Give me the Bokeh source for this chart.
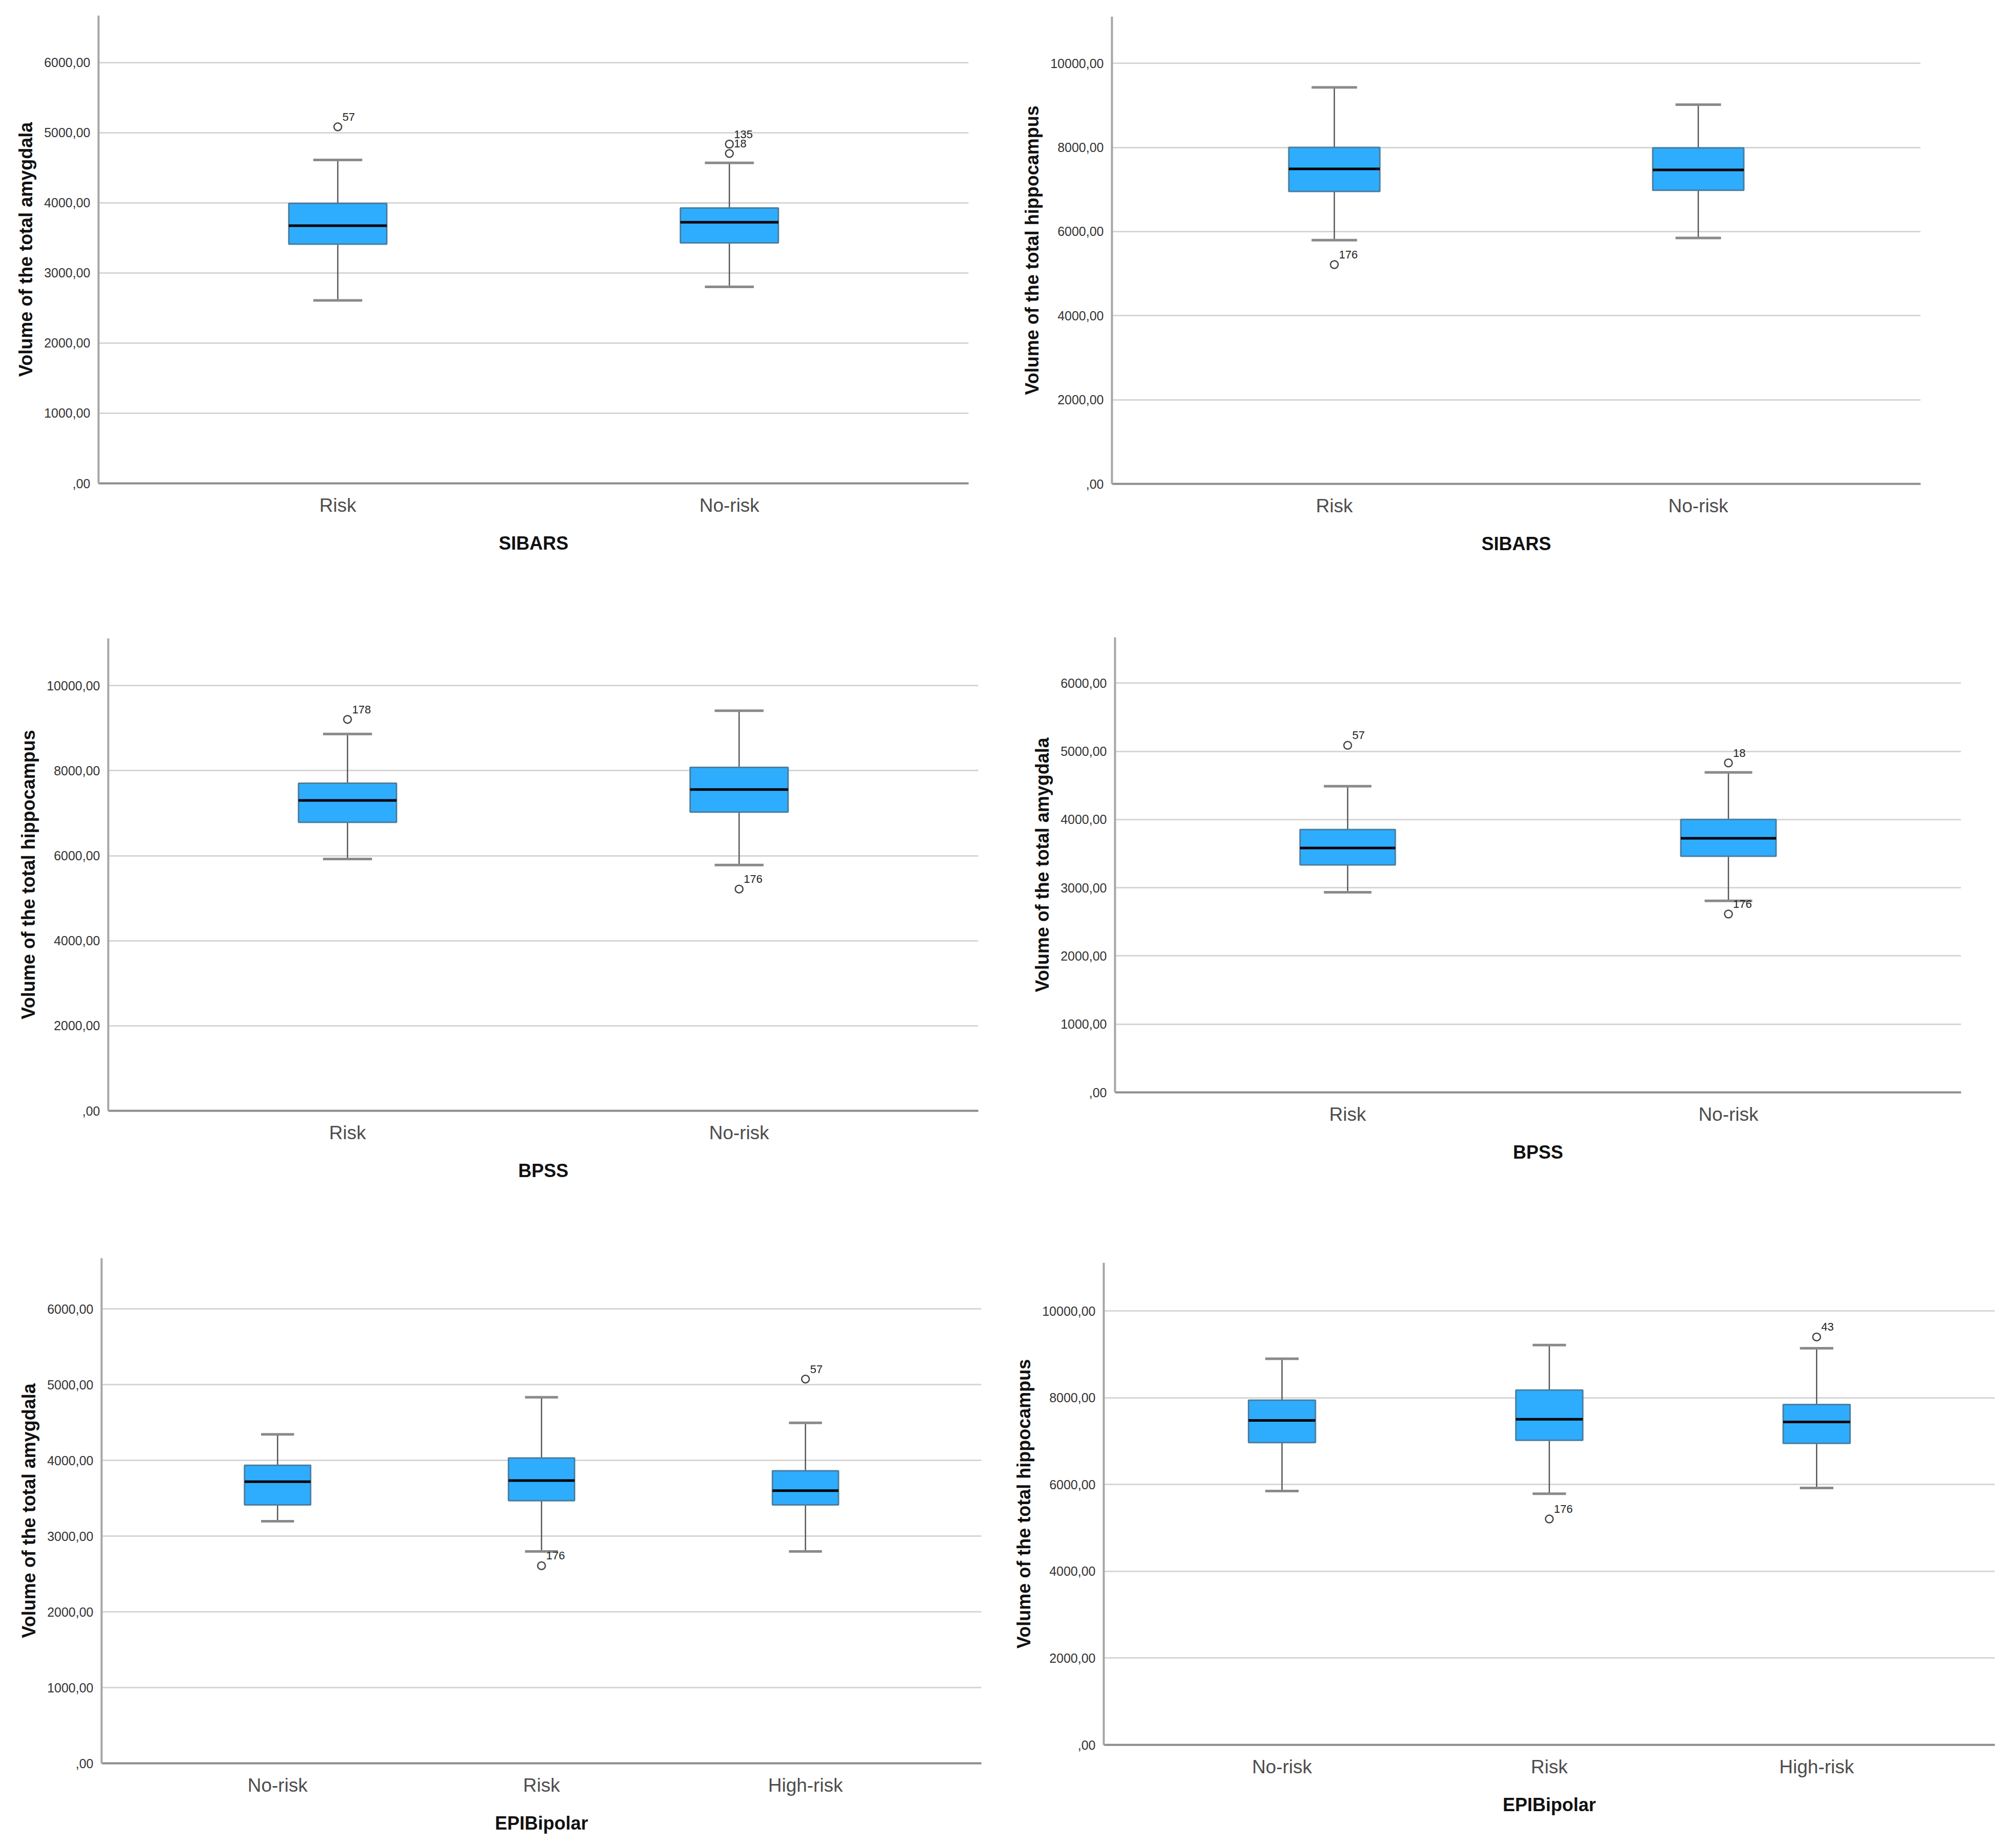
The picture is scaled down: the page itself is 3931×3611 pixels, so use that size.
from bokeh.plotting import figure
from bokeh.models import FactorRange, Range1d, FixedTicker
from bokeh.layouts import column, row
from bokeh.embed import file_html
from bokeh.resources import INLINE
from bokeh.core.properties import value

# ---------------- data ----------------
AMY_TICKS = [0, 1000, 2000, 3000, 4000, 5000, 6000]
AMY_TICK_LABELS = [",00", "1000,00", "2000,00", "3000,00", "4000,00", "5000,00", "6000,00"]
HIP_TICKS = [0, 2000, 4000, 6000, 8000, 10000]
HIP_TICK_LABELS = [",00", "2000,00", "4000,00", "6000,00", "8000,00", "10000,00"]

AMY_LABEL = "Volume of the total amygdala"
HIP_LABEL = "Volume of the total hippocampus"

# Panel 1: amygdala by SIBARS
p1_cats = ["Risk", "No-risk"]
p1_low = [2609, 2802]
p1_q1 = [3412, 3429]
p1_med = [3675, 3723]
p1_q3 = [3991, 3927]
p1_high = [4612, 4570]
p1_out_cat = ["Risk", "No-risk", "No-risk"]
p1_out_val = [5084, 4838, 4704]
p1_out_id = ["57", "135", "18"]

# Panel 2: hippocampus by SIBARS
p2_cats = ["Risk", "No-risk"]
p2_low = [5795, 5848]
p2_q1 = [6955, 6982]
p2_med = [7491, 7464]
p2_q3 = [8000, 7990]
p2_high = [9429, 9018]
p2_out_cat = ["Risk"]
p2_out_val = [5214]
p2_out_id = ["176"]

# Panel 3: hippocampus by BPSS
p3_cats = ["Risk", "No-risk"]
p3_low = [5922, 5781]
p3_q1 = [6787, 7026]
p3_med = [7299, 7555]
p3_q3 = [7705, 8076]
p3_high = [8861, 9409]
p3_out_cat = ["Risk", "No-risk"]
p3_out_val = [9206, 5216]
p3_out_id = ["178", "176"]

# Panel 4: amygdala by BPSS
p4_cats = ["Risk", "No-risk"]
p4_low = [2934, 2808]
p4_q1 = [3335, 3462]
p4_med = [3582, 3725]
p4_q3 = [3852, 4000]
p4_high = [4489, 4692]
p4_out_cat = ["Risk", "No-risk", "No-risk"]
p4_out_val = [5088, 4830, 2615]
p4_out_id = ["57", "18", "176"]

# Panel 5: amygdala by EPIBipolar
p5_cats = ["No-risk", "Risk", "High-risk"]
p5_low = [3197, 2798, 2798]
p5_q1 = [3412, 3468, 3412]
p5_med = [3719, 3734, 3601]
p5_q3 = [3934, 4031, 3862]
p5_high = [4343, 4834, 4496]
p5_out_cat = ["Risk", "High-risk"]
p5_out_val = [2609, 5074]
p5_out_id = ["176", "57"]

# Panel 6: hippocampus by EPIBipolar
p6_cats = ["No-risk", "Risk", "High-risk"]
p6_low = [5850, 5787, 5921]
p6_q1 = [6968, 7021, 6950]
p6_med = [7478, 7504, 7442]
p6_q3 = [7943, 8175, 7844]
p6_high = [8900, 9213, 9141]
p6_out_cat = ["Risk", "High-risk"]
p6_out_val = [5206, 9401]
p6_out_id = ["176", "43"]

FONT = "Liberation Sans"
BOX_FILL = "#2eadff"
BOX_LINE = "#4a7ea0"
NOSHRINK = {"flex-shrink": "0", "flex-grow": "0"}


def make_panel(cats, low, q1, med, q3, high, out_cat, out_val, out_id,
               xlabel, ylabel, ticks, tick_labels, ymax,
               fw, fh, mbl, mbr, mbt, mbb):
    pad = 0.111 if len(cats) == 2 else 0.1667
    p = figure(frame_width=fw, frame_height=fh, output_backend="svg", toolbar_location=None,
               x_range=FactorRange(*cats, range_padding=pad, range_padding_units="absolute"),
               y_range=Range1d(0, ymax),
               min_border_left=mbl, min_border_right=mbr,
               min_border_top=mbt, min_border_bottom=mbb)
    p.frame_align = False
    p.styles = dict(NOSHRINK)
    p.outline_line_color = None
    p.background_fill_color = "white"
    p.border_fill_color = "white"
    p.xgrid.grid_line_color = None
    p.ygrid.grid_line_color = "#d6d6d6"
    p.ygrid.grid_line_width = 3
    p.yaxis.ticker = FixedTicker(ticks=ticks)
    p.yaxis.major_label_overrides = {t: l for t, l in zip(ticks, tick_labels)}
    p.yaxis.minor_tick_line_color = None
    p.yaxis.major_tick_line_color = None
    p.xaxis.major_tick_line_color = None
    p.yaxis.axis_line_color = "#a6a6a6"
    p.yaxis.axis_line_width = 4
    p.xaxis.axis_line_color = "#8c8c8c"
    p.xaxis.axis_line_width = 4
    p.yaxis.major_label_text_font = FONT
    p.yaxis.major_label_text_font_size = "25px"
    p.yaxis.major_label_text_color = "#333333"
    p.yaxis.major_label_standoff = 10
    p.xaxis.major_label_text_font = FONT
    p.xaxis.major_label_text_font_size = "37px"
    p.xaxis.major_label_text_color = "#4d4d4d"
    p.xaxis.major_label_standoff = 16
    p.xaxis.axis_label = xlabel
    p.yaxis.axis_label = ylabel
    for ax in (p.xaxis, p.yaxis):
        ax.axis_label_text_font = FONT
        ax.axis_label_text_font_size = "36px"
        ax.axis_label_text_font_style = "bold"
        ax.axis_label_text_color = "#111111"
    p.xaxis.axis_label_standoff = 30
    p.yaxis.axis_label_standoff = 12

    # whiskers
    p.segment(x0=cats, y0=q3, x1=cats, y1=high, line_color="#555555", line_width=2.5)
    p.segment(x0=cats, y0=q1, x1=cats, y1=low, line_color="#555555", line_width=2.5)
    # caps
    p.rect(x=cats, y=high, width=0.125, height=5, height_units="screen",
           fill_color="#8a8a8a", line_color=None)
    p.rect(x=cats, y=low, width=0.125, height=5, height_units="screen",
           fill_color="#8a8a8a", line_color=None)
    # boxes
    p.vbar(x=cats, width=0.25, bottom=q1, top=q3, fill_color=BOX_FILL,
           line_color=BOX_LINE, line_width=3)
    # medians
    p.rect(x=cats, y=med, width=0.25, height=5, height_units="screen",
           fill_color="black", line_color=None)
    # outliers
    p.scatter(x=out_cat, y=out_val, marker="circle", size=15, fill_color="white",
              line_color="#444444", line_width=2.5)
    p.text(x=out_cat, y=out_val, text=out_id, x_offset=9, y_offset=-12,
           text_baseline="bottom", text_align="left", text_font=value(FONT),
           text_font_size="22px", text_color="#222222")
    return p


p1 = make_panel(p1_cats, p1_low, p1_q1, p1_med, p1_q3, p1_high, p1_out_cat, p1_out_val, p1_out_id,
                "SIBARS", AMY_LABEL, AMY_TICKS, AMY_TICK_LABELS, 6670,
                1700, 914, 192, 60, 30, 243)
p2 = make_panel(p2_cats, p2_low, p2_q1, p2_med, p2_q3, p2_high, p2_out_cat, p2_out_val, p2_out_id,
                "SIBARS", HIP_LABEL, HIP_TICKS, HIP_TICK_LABELS, 11110,
                1580, 913, 220, 163, 32, 242)
p3 = make_panel(p3_cats, p3_low, p3_q1, p3_med, p3_q3, p3_high, p3_out_cat, p3_out_val, p3_out_id,
                "BPSS", HIP_LABEL, HIP_TICKS, HIP_TICK_LABELS, 11110,
                1700, 923, 211, 41, 60, 227)
p4 = make_panel(p4_cats, p4_low, p4_q1, p4_med, p4_q3, p4_high, p4_out_cat, p4_out_val, p4_out_id,
                "BPSS", AMY_LABEL, AMY_TICKS, AMY_TICK_LABELS, 6670,
                1653, 889, 226, 84, 58, 263)
p5 = make_panel(p5_cats, p5_low, p5_q1, p5_med, p5_q3, p5_high, p5_out_cat, p5_out_val, p5_out_id,
                "EPIBipolar", AMY_LABEL, AMY_TICKS, AMY_TICK_LABELS, 6670,
                1719, 987, 198, 35, 61, 147)
p6 = make_panel(p6_cats, p6_low, p6_q1, p6_med, p6_q3, p6_high, p6_out_cat, p6_out_val, p6_out_id,
                "EPIBipolar", HIP_LABEL, HIP_TICKS, HIP_TICK_LABELS, 11110,
                1741, 942, 204, 18, 70, 183)

r1 = row(p1, p2)
r2 = row(p3, p4)
r3 = row(p5, p6)
for r in (r1, r2, r3):
    r.styles = dict(NOSHRINK)
layout = column(r1, r2, r3)
open("out.html", "w").write(file_html(layout, INLINE))
